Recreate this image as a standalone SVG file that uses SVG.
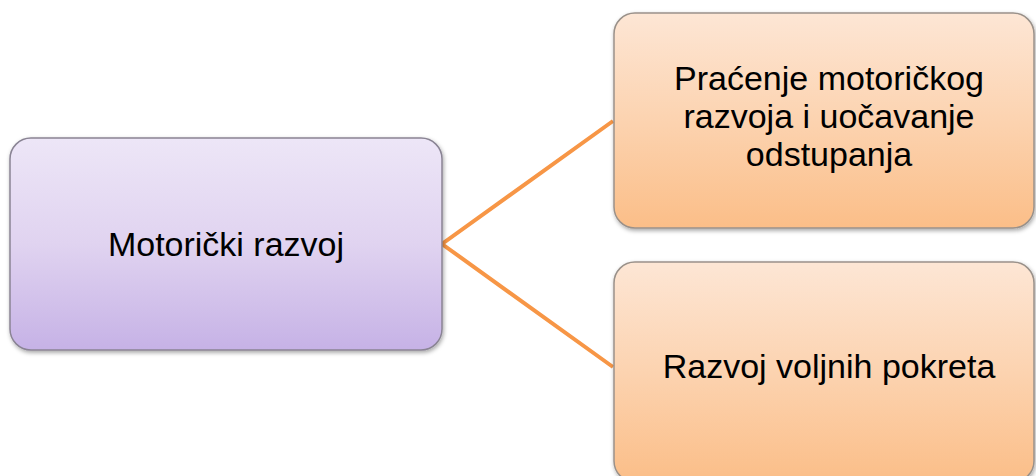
<svg xmlns="http://www.w3.org/2000/svg" width="1036" height="476" viewBox="0 0 1036 476">
<defs>
<linearGradient id="gPurple" x1="0" y1="0" x2="0" y2="1">
<stop offset="0" stop-color="#EDE6F7"/>
<stop offset="0.5" stop-color="#E0D3F0"/>
<stop offset="1" stop-color="#C6B2E6"/>
</linearGradient>
<linearGradient id="gOrange" x1="0" y1="0" x2="0" y2="1">
<stop offset="0" stop-color="#FDE6D5"/>
<stop offset="0.5" stop-color="#FCD3B0"/>
<stop offset="1" stop-color="#FBBE88"/>
</linearGradient>
<filter id="shadow" x="-5%" y="-5%" width="112%" height="115%">
<feDropShadow dx="1" dy="2" stdDeviation="2" flood-color="#000" flood-opacity="0.35"/>
</filter>
</defs>
<style>
.box { stroke-width: 1.5; filter: url(#shadow); }
.purple { fill: url(#gPurple); stroke: #8A8494; }
.orange { fill: url(#gOrange); stroke: #9A918A; }
.label { font-family: "Liberation Sans", Arial, sans-serif; font-size: 34px; fill: #000; text-anchor: middle; }
.conn { stroke: #F79646; stroke-width: 4; fill: none; stroke-linejoin: miter; }
</style>
<rect width="1036" height="476" fill="#FFFFFF"/>
<g id="connectors">
<polyline class="conn" points="613,121 442,244 613,367"/>
</g>
<g id="node-motoricki-razvoj">
<rect class="box purple" x="10" y="138" width="432" height="212" rx="21" ry="21"/>
<text class="label" x="226" y="256">Motorički razvoj</text>
</g>
<g id="node-pracenje">
<rect class="box orange" x="614" y="13" width="420" height="215" rx="21" ry="21"/>
<text class="label" x="829" y="90">Praćenje motoričkog</text>
<text class="label" x="829" y="128">razvoja i uočavanje</text>
<text class="label" x="829" y="166">odstupanja</text>
</g>
<g id="node-razvoj-voljnih">
<rect class="box orange" x="614" y="262" width="420" height="220" rx="21" ry="21"/>
<text class="label" x="829" y="378">Razvoj voljnih pokreta</text>
</g>
</svg>
